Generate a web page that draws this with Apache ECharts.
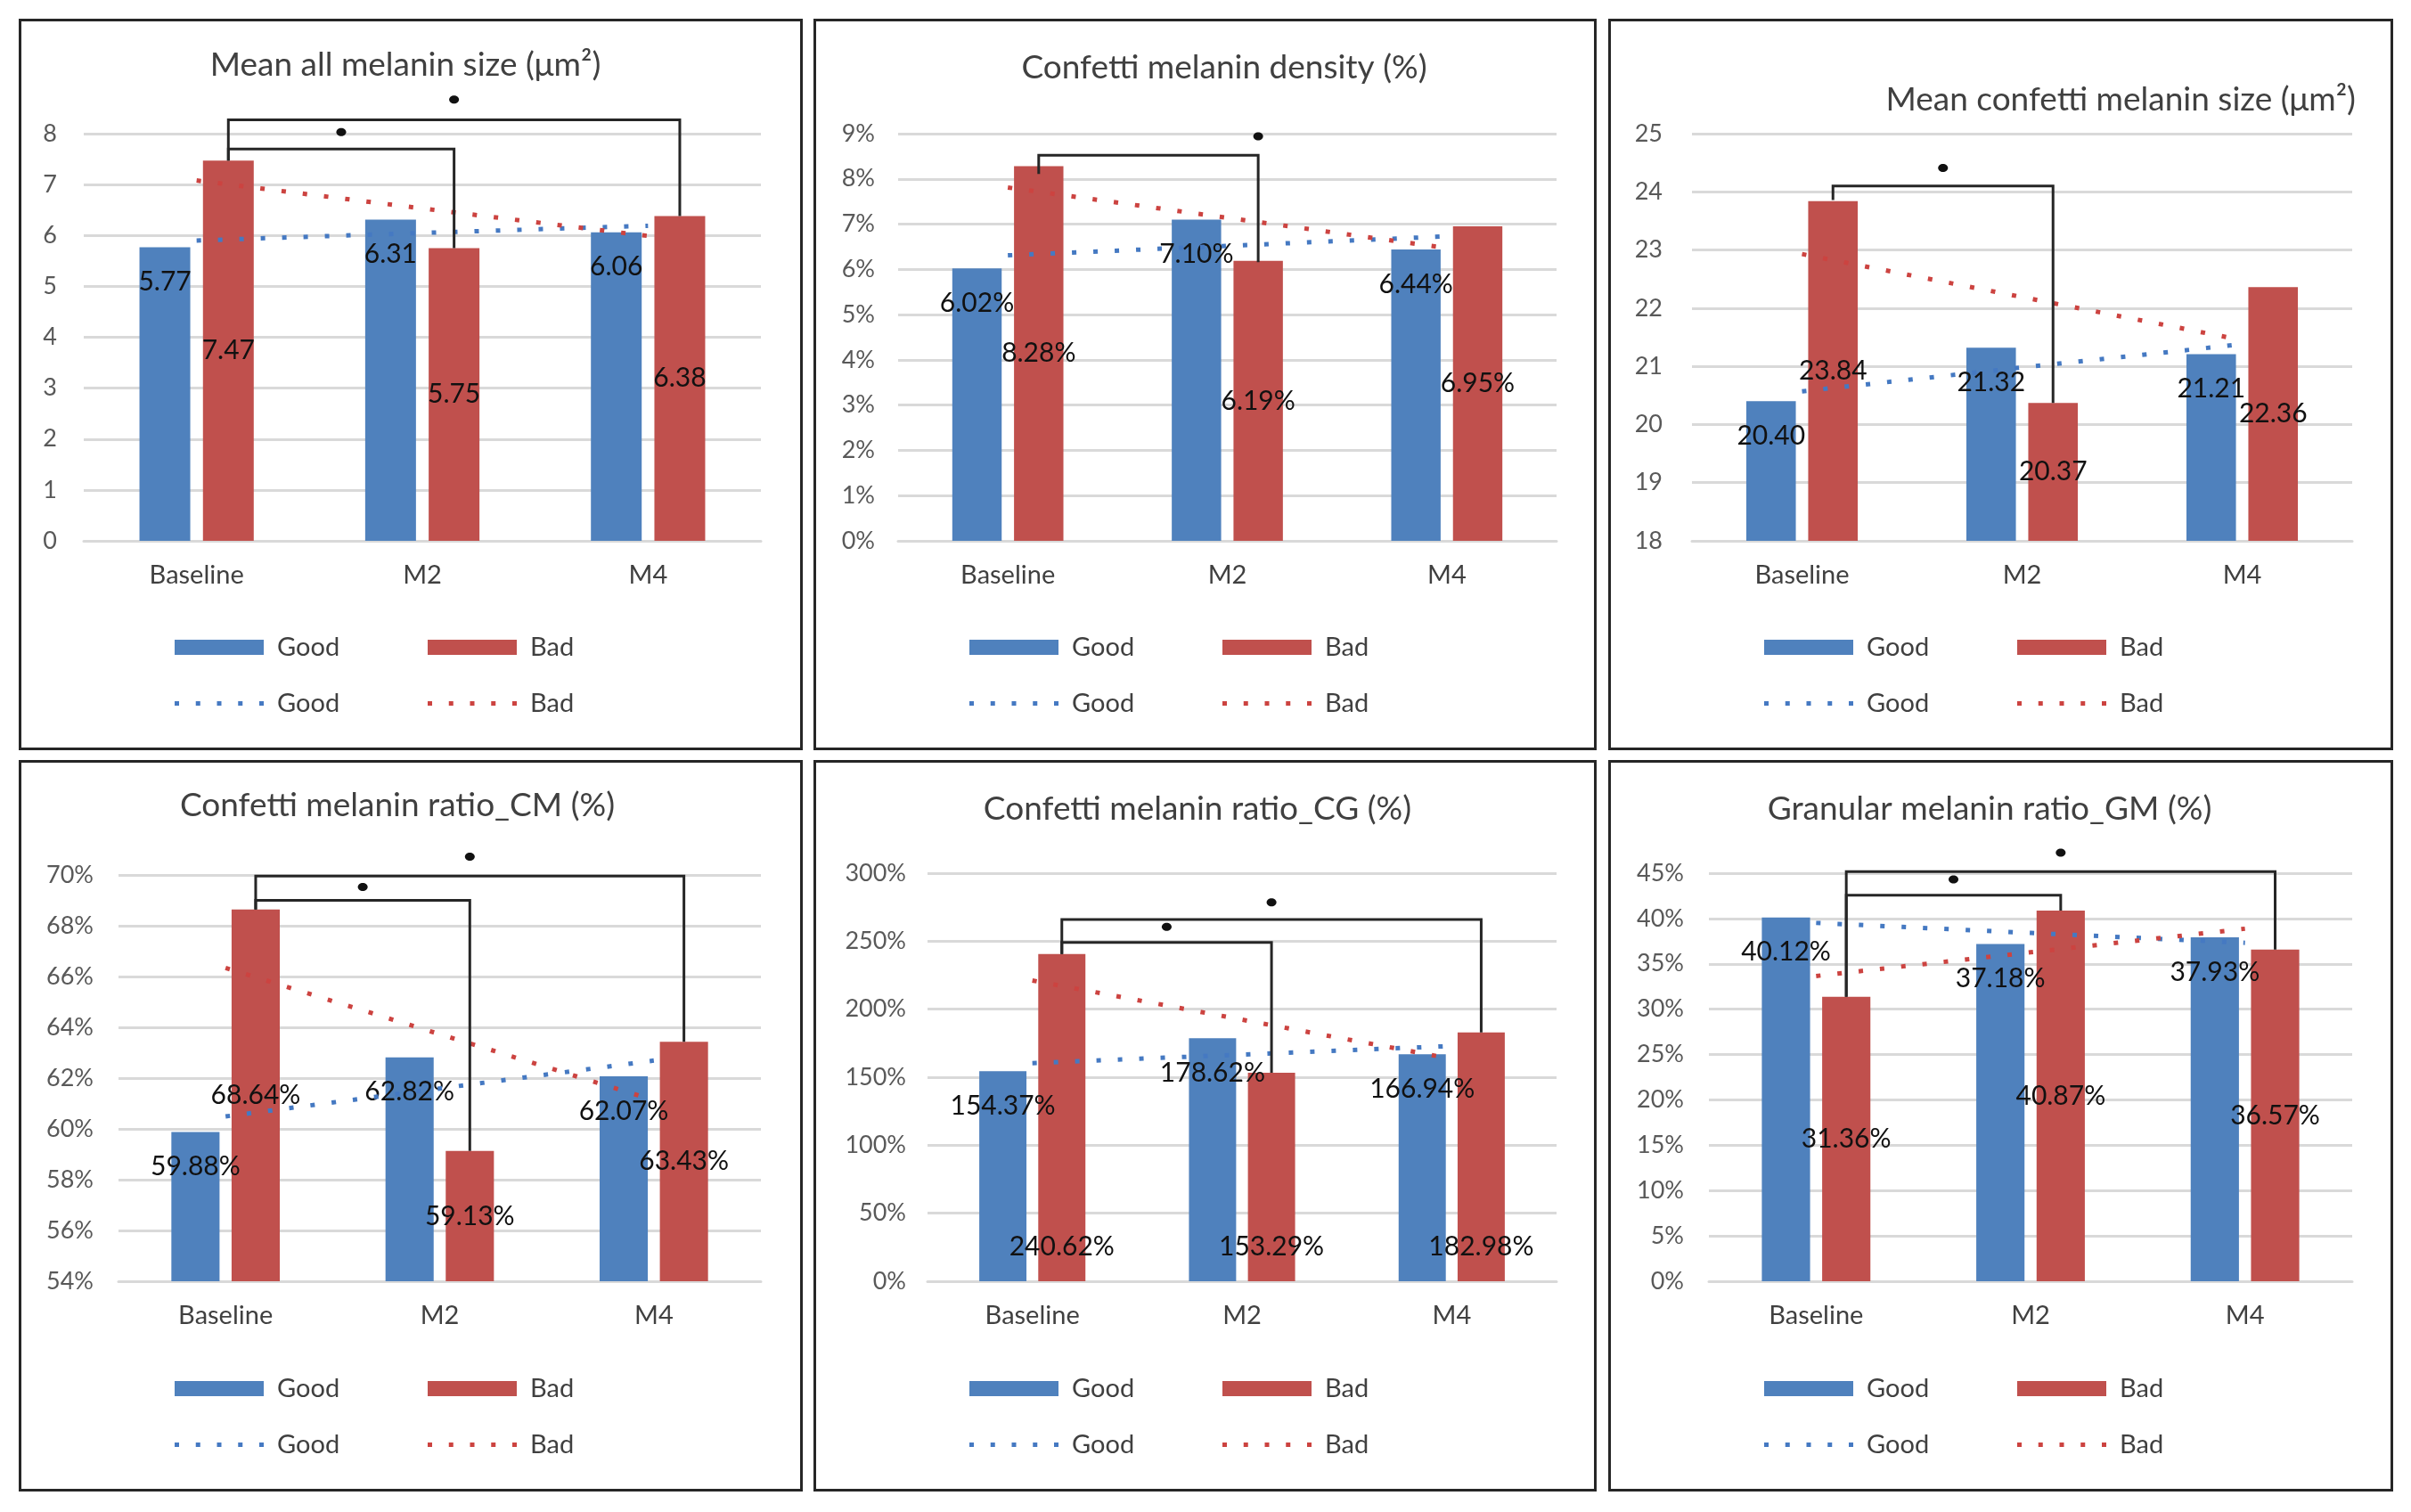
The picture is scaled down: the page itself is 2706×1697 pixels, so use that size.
<!DOCTYPE html>
<html><head><meta charset="utf-8">
<script src="https://cdn.jsdelivr.net/npm/echarts@6/dist/echarts.min.js"></script>
<style>
html,body{margin:0;padding:0;background:#fff;width:2706px;height:1697px;overflow:hidden}
.panel{position:absolute;box-sizing:border-box;border:3px solid #262626;background:#fff}
</style></head><body>
<div id="p1" class="panel" style="left:21px;top:21px;width:880px;height:821px"></div>
<div id="p2" class="panel" style="left:913px;top:21px;width:879px;height:821px"></div>
<div id="p3" class="panel" style="left:1805px;top:21px;width:881px;height:821px"></div>
<div id="p4" class="panel" style="left:21px;top:853px;width:880px;height:821px"></div>
<div id="p5" class="panel" style="left:913px;top:853px;width:879px;height:821px"></div>
<div id="p6" class="panel" style="left:1805px;top:853px;width:881px;height:821px"></div>
<script>
const FONT = 'Lato, "Open Sans", sans-serif';
const categories = ['Baseline', 'M2', 'M4'];
const legendNames = ['Good', 'Bad'];

// Panel 1: Mean all melanin size
const allSizeGood = [5.77, 6.31, 6.06];
const allSizeBad = [7.47, 5.75, 6.38];
const allSizeGoodTrend = [5.90, 6.05, 6.19];
const allSizeBadTrend = [7.08, 6.53, 5.99];
// bracket: [fromCat, toCat, level, leftEnd, rightEnd, dotValue, dotFraction]
const allSizeBrackets = [[0, 1, 7.70, 7.47, 5.75, 8.03, 0.5], [0, 2, 8.27, 7.47, 6.38, 8.67, 0.5]];

// Panel 2: Confetti melanin density (%)
const densityGood = [6.02, 7.10, 6.44];
const densityBad = [8.28, 6.19, 6.95];
const densityGoodTrend = [6.31, 6.52, 6.73];
const densityBadTrend = [7.81, 7.14, 6.47];
const densityBrackets = [[0, 1, 8.52, 8.11, 6.16, 8.94, 1.0]];

// Panel 3: Mean confetti melanin size
const confSizeGood = [20.40, 21.32, 21.21];
const confSizeBad = [23.84, 20.37, 22.36];
const confSizeGoodTrend = [20.57, 20.98, 21.38];
const confSizeBadTrend = [22.93, 22.19, 21.45];
const confSizeBrackets = [[0, 1, 24.10, 23.86, 20.37, 24.41, 0.5]];

// Panel 4: Confetti melanin ratio_CM (%)
const cmGood = [59.88, 62.82, 62.07];
const cmBad = [68.64, 59.13, 63.43];
const cmGoodTrend = [60.49, 61.59, 62.69];
const cmBadTrend = [66.34, 63.73, 61.13];
const cmBrackets = [[0, 1, 69.0, 68.64, 59.13, 69.53, 0.5], [0, 2, 69.96, 68.64, 63.43, 70.72, 0.5]];

// Panel 5: Confetti melanin ratio_CG (%)
const cgGood = [154.37, 178.62, 166.94];
const cgBad = [240.62, 153.29, 182.98];
const cgGoodTrend = [160.36, 166.64, 172.93];
const cgBadTrend = [221.12, 192.30, 163.48];
const cgBrackets = [[0, 1, 249, 240.62, 153.29, 260.6, 0.5], [0, 2, 266, 240.62, 182.98, 278.5, 0.5]];

// Panel 6: Granular melanin ratio_GM (%)
const gmGood = [40.12, 37.18, 37.93];
const gmBad = [31.36, 40.87, 36.57];
const gmGoodTrend = [39.51, 38.41, 37.32];
const gmBadTrend = [33.66, 36.27, 38.87];
const gmBrackets = [[0, 1, 42.58, 31.36, 40.87, 44.3, 0.5], [0, 2, 45.16, 31.36, 36.57, 47.26, 0.5]];

const BAR_W = 0.225, BAR_GAP = 0.25;
const C_GOOD = '#4F81BD', C_BAD = '#C0504D', C_GOOD_DOT = '#4579C2', C_BAD_DOT = '#CC4340';
const DOT_ICON = 'path://M0,0h5v5h-5zM23.75,0h5v5h-5zM47.5,0h5v5h-5zM71.25,0h5v5h-5zM95,0h5v5h-5z';

function renderBracket(params, api) {
  const from = api.value(0), to = api.value(1), level = api.value(2);
  const lEnd = api.value(3), rEnd = api.value(4), dotV = api.value(5), t = api.value(6);
  const band = api.size([1, 0])[0];
  const bw = band * BAR_W;
  const off = (bw + bw * BAR_GAP) / 2;
  const pL = api.coord([from, level]);
  const pR = api.coord([to, level]);
  const x1 = pL[0] + off, x2 = pR[0] + off, yL = pL[1];
  const y1 = api.coord([from, lEnd])[1];
  const y2 = api.coord([to, rEnd])[1];
  const dx = x1 + (x2 - x1) * t;
  const dy = api.coord([from, dotV])[1];
  return {
    type: 'group',
    children: [
      { type: 'polyline', shape: { points: [[x1, y1], [x1, yL], [x2, yL], [x2, y2]] },
        style: { stroke: '#262626', lineWidth: 3, fill: null } },
      { type: 'ellipse', shape: { cx: dx, cy: dy, rx: 5.5, ry: 4.5 }, style: { fill: '#111' } }
    ]
  };
}

function makeOption(c) {
  const fmt = c.pct ? (v) => v.toFixed(2) + '%' : (v) => v.toFixed(2);
  const legendBase = (name, left, top) => ({
    data: [name], left: left, top: top, itemWidth: 100, itemHeight: 17, itemGap: 0,
    selectedMode: false,
    textStyle: { fontSize: 29, color: '#404040', fontFamily: FONT, padding: [0, 0, 0, 10] }
  });
  return {
    animation: false,
    graphic: [{
      type: 'text', x: c.titleX, y: c.titleY,
      style: { text: c.title, font: '37px ' + FONT, fill: '#404040',
               textAlign: c.titleAlign || 'center', textVerticalAlign: 'middle' }
    }],
    grid: c.grid,
    legend: [
      Object.assign(legendBase('Good', 167, 683), { icon: 'rect' }),
      Object.assign(legendBase('Bad', 451, 683), { icon: 'rect' }),
      Object.assign(legendBase('Good ', 167, 746), { icon: DOT_ICON, itemHeight: 5 }),
      Object.assign(legendBase('Bad ', 451, 746), { icon: DOT_ICON, itemHeight: 5 })
    ],
    xAxis: {
      type: 'category', data: categories,
      axisLine: { show: true, lineStyle: { color: '#d9d9d9', width: 3 } },
      axisTick: { show: false },
      axisLabel: { fontSize: 29, color: '#404040', fontFamily: FONT, margin: 24 }
    },
    yAxis: {
      type: 'value', min: c.min, max: c.max, interval: c.interval,
      axisLine: { show: false }, axisTick: { show: false },
      axisLabel: { fontSize: 27, color: '#595959', fontFamily: FONT, margin: c.yMargin,
                   formatter: (v) => c.pct ? v + '%' : String(v) },
      splitLine: { lineStyle: { color: '#d9d9d9', width: 3 } }
    },
    series: [
      { name: 'Good', type: 'bar', data: c.good, barWidth: (BAR_W * 100) + '%',
        itemStyle: { color: C_GOOD }, z: 2,
        label: { show: true, position: 'insideTop', distance: 24, formatter: (p) => fmt(p.value),
                 fontSize: 30, color: '#111', fontFamily: FONT } },
      { name: 'Bad', type: 'bar', data: c.bad, barWidth: (BAR_W * 100) + '%', barGap: (BAR_GAP * 100) + '%',
        itemStyle: { color: C_BAD }, z: 2,
        label: { show: true, position: c.badPos || 'inside', distance: 24, formatter: (p) => fmt(p.value),
                 fontSize: 30, color: '#111', fontFamily: FONT } },
      { name: 'Good ', type: 'line', data: c.goodTrend, symbol: 'none', z: 3,
        lineStyle: { color: C_GOOD_DOT, width: 5, type: [5, 19], cap: 'butt' }, itemStyle: { color: C_GOOD_DOT } },
      { name: 'Bad ', type: 'line', data: c.badTrend, symbol: 'none', z: 3,
        lineStyle: { color: C_BAD_DOT, width: 5, type: [5, 19], cap: 'butt' }, itemStyle: { color: C_BAD_DOT } },
      { type: 'custom', renderItem: renderBracket, data: c.brackets, clip: false, silent: true, z: 4,
        encode: { x: 0, y: 2 } }
    ]
  };
}

const panels = [
  { id: 'p1', title: 'Mean all melanin size (μm²)', titleX: 431, titleY: 49,
    good: allSizeGood, bad: allSizeBad, goodTrend: allSizeGoodTrend, badTrend: allSizeBadTrend,
    brackets: allSizeBrackets, min: 0, max: 8, interval: 1, pct: false, yMargin: 30,
    grid: { left: 70, right: 44, top: 126, bottom: 232 } },
  { id: 'p2', title: 'Confetti melanin density (%)', titleX: 458, titleY: 52,
    good: densityGood, bad: densityBad, goodTrend: densityGoodTrend, badTrend: densityBadTrend,
    brackets: densityBrackets, min: 0, max: 9, interval: 1, pct: true, yMargin: 26,
    grid: { left: 92, right: 42, top: 126, bottom: 232 } },
  { id: 'p3', title: 'Mean confetti melanin size (μm²)', titleX: 836, titleY: 88, titleAlign: 'right',
    good: confSizeGood, bad: confSizeBad, goodTrend: confSizeGoodTrend, badTrend: confSizeBadTrend,
    brackets: confSizeBrackets, min: 18, max: 25, interval: 1, pct: false, yMargin: 33,
    grid: { left: 91, right: 43, top: 126, bottom: 232 } },
  { id: 'p4', title: 'Confetti melanin ratio_CM (%)', titleX: 422, titleY: 48,
    good: cmGood, bad: cmBad, goodTrend: cmGoodTrend, badTrend: cmBadTrend,
    brackets: cmBrackets, min: 54, max: 70, interval: 2, pct: true, yMargin: 28,
    grid: { left: 109, right: 44, top: 126, bottom: 233 } },
  { id: 'p5', title: 'Confetti melanin ratio_CG (%)', titleX: 428, titleY: 52,
    good: cgGood, bad: cgBad, goodTrend: cgGoodTrend, badTrend: cgBadTrend,
    brackets: cgBrackets, min: 0, max: 300, interval: 50, pct: true, yMargin: 24, badPos: 'insideBottom',
    grid: { left: 125, right: 42, top: 124, bottom: 233 } },
  { id: 'p6', title: 'Granular melanin ratio_GM (%)', titleX: 425, titleY: 52,
    good: gmGood, bad: gmBad, goodTrend: gmGoodTrend, badTrend: gmBadTrend,
    brackets: gmBrackets, min: 0, max: 45, interval: 5, pct: true, yMargin: 28,
    grid: { left: 110, right: 43, top: 124, bottom: 233 } }
];

panels.forEach((c) => {
  const chart = echarts.init(document.getElementById(c.id), null, { renderer: 'canvas' });
  chart.setOption(makeOption(c));
});
</script>
</body></html>
